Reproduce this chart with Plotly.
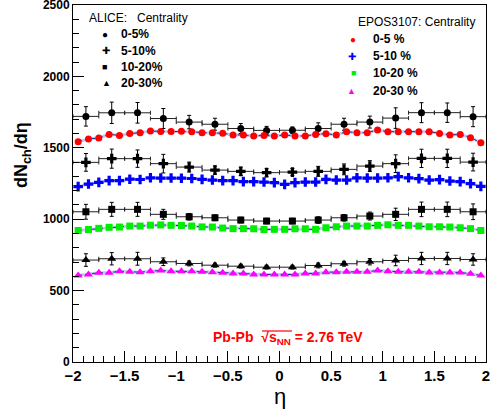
import plotly.graph_objects as go

# ALICE data (bin centres, width 0.25)
eta_alice = [-1.875, -1.625, -1.375, -1.125, -0.875, -0.625, -0.375, -0.125,
             0.125, 0.375, 0.625, 0.875, 1.125, 1.375, 1.625, 1.875]
eta_halfwidth = [0.125] * 16
alice_0_5 = [1720, 1745, 1745, 1705, 1680, 1665, 1635, 1622, 1623, 1635, 1665, 1680, 1708, 1746, 1746, 1718]
alice_0_5_err = [68, 75, 72, 70, 47, 42, 35, 28, 23, 40, 42, 42, 72, 70, 68, 70]
alice_5_10 = [1398, 1424, 1424, 1389, 1365, 1344, 1335, 1326, 1330, 1335, 1349, 1372, 1389, 1426, 1426, 1400]
alice_5_10_err = [62, 67, 61, 65, 35, 29, 29, 28, 25, 35, 38, 38, 62, 64, 64, 62]
alice_10_20 = [1052, 1069, 1069, 1034, 1017, 1010, 994, 987, 987, 994, 1010, 1022, 1034, 1069, 1069, 1052]
alice_10_20_err = [52, 49, 49, 35, 23, 20, 20, 19, 19, 23, 23, 28, 43, 51, 51, 55]
alice_20_30 = [714, 723, 723, 702, 690, 678, 671, 664, 664, 676, 688, 702, 711, 725, 725, 718]
alice_20_30_err = [44, 43, 45, 27, 17, 14, 13, 13, 13, 17, 17, 22, 37, 43, 43, 40]

# EPOS3107 (bins of 0.1)
eta_epos = [-1.95, -1.85, -1.75, -1.65, -1.55, -1.45, -1.35, -1.25, -1.15, -1.05,
            -0.95, -0.85, -0.75, -0.65, -0.55, -0.45, -0.35, -0.25, -0.15, -0.05,
            0.05, 0.15, 0.25, 0.35, 0.45, 0.55, 0.65, 0.75, 0.85, 0.95,
            1.05, 1.15, 1.25, 1.35, 1.45, 1.55, 1.65, 1.75, 1.85, 1.95]
epos_0_5 = [1543, 1562, 1569, 1594, 1587, 1600, 1606, 1618, 1614, 1614,
            1616, 1613, 1606, 1606, 1602, 1590, 1590, 1583, 1587, 1583,
            1590, 1583, 1583, 1594, 1599, 1590, 1613, 1606, 1606, 1625,
            1613, 1613, 1613, 1613, 1613, 1601, 1590, 1594, 1571, 1536]
epos_5_10 = [1228, 1246, 1258, 1270, 1270, 1280, 1278, 1290, 1288, 1288,
             1287, 1285, 1279, 1274, 1270, 1270, 1263, 1263, 1260, 1256,
             1244, 1256, 1260, 1260, 1279, 1274, 1274, 1290, 1288, 1288,
             1290, 1298, 1290, 1284, 1274, 1277, 1267, 1263, 1249, 1230]
epos_10_20 = [921, 928, 936, 943, 945, 952, 952, 958, 960, 957,
              956, 952, 946, 945, 938, 934, 934, 933, 928, 929,
              929, 933, 933, 929, 940, 947, 952, 952, 952, 957,
              961, 957, 957, 952, 947, 947, 945, 940, 934, 921]
epos_20_30 = [606, 613, 625, 625, 636, 632, 629, 636, 641, 636,
              636, 636, 632, 629, 625, 620, 620, 613, 613, 613,
              613, 613, 620, 620, 629, 629, 632, 632, 632, 641,
              636, 632, 632, 632, 627, 627, 627, 627, 618, 606]

alice_labels = ["0-5%", "5-10%", "10-20%", "20-30%"]
epos_labels = ["0-5 %", "5-10 %", "10-20 %", "20-30 %"]

FONT = "Liberation Sans, Arial, Helvetica, sans-serif"

# plot-area geometry in pixels (for placing the text legends)
L, R, T, B = 73, 486, 5, 362
W, H = R - L, B - T


def px(x):
    return (x - L) / W


def py(y):
    return (B - y) / H


fig = go.Figure()

# EPOS connecting dashed lines
for vals in [epos_0_5, epos_5_10, epos_10_20, epos_20_30]:
    fig.add_trace(go.Scatter(x=eta_epos, y=vals, mode="lines",
                             line=dict(color="rgba(120,140,220,0.45)", width=3),
                             showlegend=False, hoverinfo="skip"))
    fig.add_trace(go.Scatter(x=eta_epos, y=vals, mode="lines",
                             line=dict(color="#1a2a9a", width=1, dash="4px,3px"),
                             showlegend=False, hoverinfo="skip"))

# ALICE
alice_sets = [
    (alice_labels[0], alice_0_5, alice_0_5_err, "circle", 7),
    (alice_labels[1], alice_5_10, alice_5_10_err, "cross", 8),
    (alice_labels[2], alice_10_20, alice_10_20_err, "square", 7),
    (alice_labels[3], alice_20_30, alice_20_30_err, "triangle-up", 8),
]
for name, vals, errs, sym, sz in alice_sets:
    fig.add_trace(go.Scatter(
        x=eta_alice, y=vals, mode="markers", name="ALICE " + name, showlegend=False,
        marker=dict(symbol=sym, size=sz, color="black"),
        error_y=dict(type="data", array=errs, visible=True, color="black", thickness=1, width=2),
        error_x=dict(type="data", array=eta_halfwidth, visible=True, color="#222222", thickness=1, width=2),
    ))

# EPOS markers
epos_colors = ["#ff0000", "#0000ff", "#00ee00", "#ff00ff"]
epos_sets = [
    (epos_labels[0], epos_0_5, "circle", 7),
    (epos_labels[1], epos_5_10, "cross", 8),
    (epos_labels[2], epos_10_20, "square", 7),
    (epos_labels[3], epos_20_30, "triangle-up", 8),
]
for (name, vals, sym, sz), col in zip(epos_sets, epos_colors):
    fig.add_trace(go.Scatter(
        x=eta_epos, y=vals, mode="markers", name="EPOS " + name, showlegend=False,
        marker=dict(symbol=sym, size=sz, color=col),
    ))

axis_common = dict(showline=True, linecolor="black", linewidth=1, mirror=True,
                   ticks="inside", tickcolor="black", ticklen=11, tickwidth=1,
                   showgrid=False, zeroline=False, ticklabeloverflow="allow")

fig.update_xaxes(range=[-2, 2], dtick=0.5, tick0=0,
                 tickfont=dict(family=FONT, size=15, color="black", weight="bold"),
                 minor=dict(dtick=0.1, ticks="inside", ticklen=6, tickcolor="black", showgrid=False),
                 **axis_common)
fig.update_yaxes(range=[0, 2500], dtick=500, tick0=0,
                 tickfont=dict(family=FONT, size=12, color="black", weight="bold"),
                 minor=dict(dtick=100, ticks="inside", ticklen=6, tickcolor="black", showgrid=False),
                 **axis_common)

annotations = [
    dict(text="dN<sub>ch</sub>/dη", xref="paper", yref="paper", x=px(23), y=py(155),
         xanchor="center", yanchor="middle",
         textangle=-90, showarrow=False, font=dict(size=18, weight="bold")),
    dict(text="η", xref="paper", yref="paper", x=0.5, y=py(396), yanchor="middle",
         showarrow=False, font=dict(size=22)),
    dict(text="Pb-Pb  √s<sub>NN</sub> = 2.76 TeV", xref="paper", yref="paper",
         x=px(288), y=py(338), showarrow=False, yanchor="middle",
         font=dict(size=14, weight="bold", color="#ff0000")),
    # legends
    dict(text="ALICE:   Centrality", xref="paper", yref="paper", x=px(87), y=py(18),
         xanchor="left", yanchor="middle", showarrow=False, font=dict(size=12)),
    dict(text="EPOS3107: Centrality", xref="paper", yref="paper", x=px(356), y=py(22),
         xanchor="left", yanchor="middle", showarrow=False, font=dict(size=12)),
]
legend_sym = ["●", "✚", "■", "▲"]
legend_sym_size = [10, 10, 9, 9]
for i, lab in enumerate(alice_labels):
    yy = [34, 51, 67, 83][i]
    annotations.append(dict(text=legend_sym[i], xref="paper", yref="paper", x=px(100), y=py(yy),
                            yanchor="middle", showarrow=False,
                            font=dict(size=legend_sym_size[i], color="black")))
    annotations.append(dict(text=lab, xref="paper", yref="paper", x=px(119), y=py(yy),
                            xanchor="left", yanchor="middle", showarrow=False,
                            font=dict(size=12, weight="bold")))
for i, lab in enumerate(epos_labels):
    yy = [39, 56, 73, 91][i]
    annotations.append(dict(text=legend_sym[i], xref="paper", yref="paper", x=px(358), y=py(yy),
                            yanchor="middle", showarrow=False,
                            font=dict(size=legend_sym_size[i], color=epos_colors[i])))
    annotations.append(dict(text=lab, xref="paper", yref="paper", x=px(371), y=py(yy),
                            xanchor="left", yanchor="middle", showarrow=False,
                            font=dict(size=12, weight="bold")))

# overline of the square root sign
shapes = [dict(type="line", xref="paper", yref="paper", x0=px(262), x1=px(292),
               y0=py(331), y1=py(331), line=dict(color="#ff0000", width=1.2))]

fig.update_layout(
    width=490, height=412,
    margin=dict(l=L, r=490 - R, t=T, b=412 - B, autoexpand=False),
    paper_bgcolor="white", plot_bgcolor="white",
    font=dict(family=FONT, color="black"),
    showlegend=False,
    annotations=annotations,
    shapes=shapes,
)

fig.write_html("out.html", config={"displayModeBar": False},
               post_script="document.body.style.margin='0';document.body.style.overflow='hidden';")
